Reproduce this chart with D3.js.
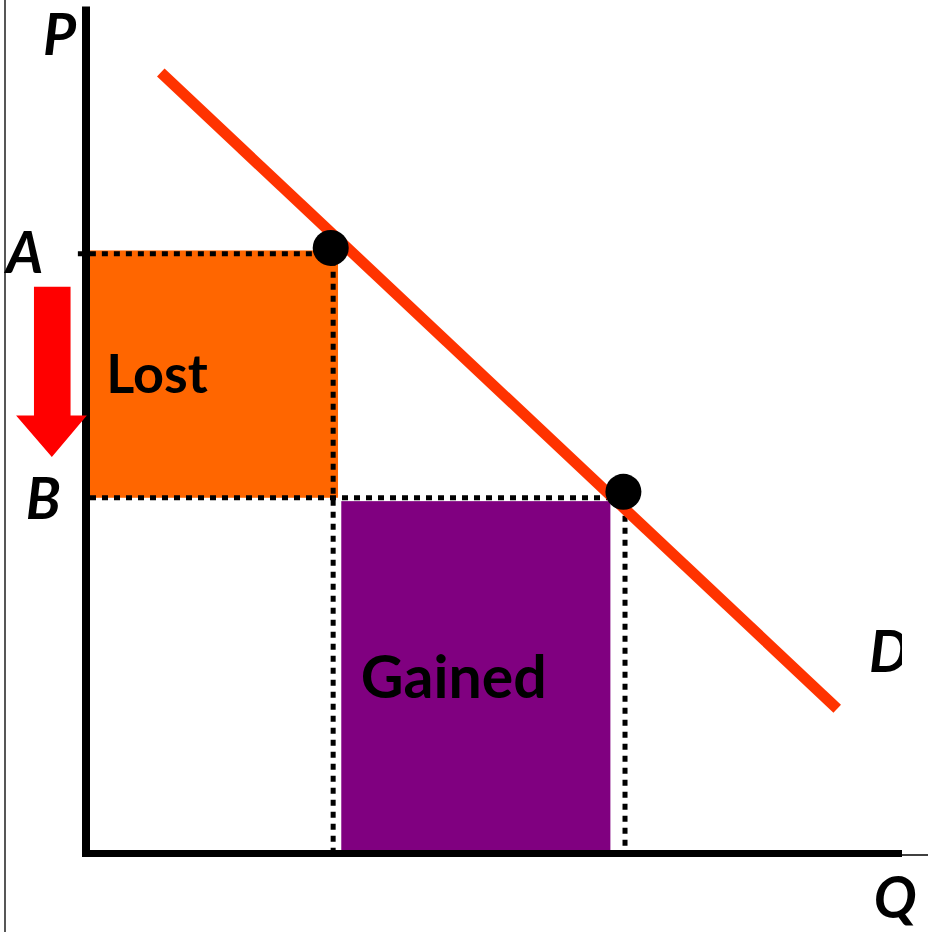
<!DOCTYPE html>
<html>
<head>
<meta charset="utf-8">
<script src="https://cdn.jsdelivr.net/npm/d3@7"></script>
<style>
  html, body { margin: 0; padding: 0; background: #fff; }
  svg { display: block; }
</style>
</head>
<body>
<svg id="chart" width="928" height="932"></svg>
<script>
// ---- data (chart units: quantity 0..100, price 0..100) ----
const demandLine = [ {q: 9.2, p: 92.2}, {q: 92.4, p: 17.1} ];
const points = [ {name: "A", q: 30.1, p: 71.5}, {name: "B", q: 66.1, p: 42.7} ];
const priceLevels = { A: 70.8, B: 42.0 };
const quantityLevels = { A: 30.4, B: 66.3 };
const lostArea = { q0: 0, q1: 31.0, p0: 42.0, p1: 71.2 };
const gainedArea = { q0: 31.4, q1: 64.5, p0: 0.4, p1: 41.6 };
const arrow = { shaftL: -6.4, shaftR: -1.9, headL: -8.6, headR: 0.1, tipQ: -4.2, top: 66.9, headBase: 51.7, tip: 46.8 };
const axisLabels = [
  {text: "P", q: -5.3, p: 94.3},
  {text: "A", q: -9.8, p: 68.5},
  {text: "B", q: -7.4, p: 39.5},
  {text: "D", q: 96.3, p: 21.4},
  {text: "Q", q: 96.9, p: -7.6}
];
const areaLabels = [
  {text: "Lost", q: 2.5, p: 54.4, size: 54},
  {text: "Gained", q: 33.8, p: 18.4, size: 59}
];

// ---- scales ----
const x = d3.scaleLinear().domain([0, 100]).range([86, 899]);
const y = d3.scaleLinear().domain([0, 100]).range([853.5, 6.5]);

const svg = d3.select("#chart");

// left border line
svg.append("line").attr("x1", 5).attr("x2", 5).attr("y1", 0).attr("y2", 932)
  .attr("stroke", "#444").attr("stroke-width", 1.8);

// shaded areas
svg.append("rect")
  .attr("x", x(lostArea.q0) + 4).attr("y", y(lostArea.p1))
  .attr("width", x(lostArea.q1) - x(lostArea.q0) - 4)
  .attr("height", y(lostArea.p0) - y(lostArea.p1))
  .attr("fill", "#FF6600");
svg.append("rect")
  .attr("x", x(gainedArea.q0)).attr("y", y(gainedArea.p1))
  .attr("width", x(gainedArea.q1) - x(gainedArea.q0))
  .attr("height", y(gainedArea.p0) - y(gainedArea.p1))
  .attr("fill", "#800080");

// dotted guide lines
const dotted = (x1, y1, x2, y2) => svg.append("line")
  .attr("x1", x1).attr("y1", y1).attr("x2", x2).attr("y2", y2)
  .attr("stroke", "#000").attr("stroke-width", 5).attr("stroke-dasharray", "6,6");
dotted(x(-1), y(priceLevels.A), x(points[0].q), y(priceLevels.A));
dotted(x(0) + 4, y(priceLevels.B), x(points[1].q), y(priceLevels.B));
dotted(x(quantityLevels.A), y(priceLevels.A) + 6, x(quantityLevels.A), y(0));
dotted(x(quantityLevels.B), y(priceLevels.B) + 6, x(quantityLevels.B), y(0));

// demand curve
svg.append("line")
  .attr("x1", x(demandLine[0].q)).attr("y1", y(demandLine[0].p))
  .attr("x2", x(demandLine[1].q)).attr("y2", y(demandLine[1].p))
  .attr("stroke", "#FF3300").attr("stroke-width", 11);

// points
svg.selectAll("circle.pt").data(points).join("circle")
  .attr("class", "pt")
  .attr("cx", d => x(d.q)).attr("cy", d => y(d.p)).attr("r", 18)
  .attr("fill", "#000");

// axes
svg.append("line").attr("x1", x(0)).attr("x2", x(0)).attr("y1", y(100)).attr("y2", y(0) + 3.5)
  .attr("stroke", "#000").attr("stroke-width", 8);
svg.append("line").attr("x1", x(0) - 4).attr("x2", 902).attr("y1", y(0)).attr("y2", y(0))
  .attr("stroke", "#000").attr("stroke-width", 7);
svg.append("line").attr("x1", 902).attr("x2", 928).attr("y1", y(0) + 1.5).attr("y2", y(0) + 1.5)
  .attr("stroke", "#000").attr("stroke-width", 1.5);

// price drop arrow
const arrowPts = [
  [arrow.shaftL, arrow.top], [arrow.shaftR, arrow.top], [arrow.shaftR, arrow.headBase],
  [arrow.headR, arrow.headBase], [arrow.tipQ, arrow.tip], [arrow.headL, arrow.headBase],
  [arrow.shaftL, arrow.headBase]
];
svg.append("polygon")
  .attr("points", arrowPts.map(d => [x(d[0]), y(d[1])].join(",")).join(" "))
  .attr("fill", "#FF0000");

// axis / point labels
svg.selectAll("text.ax").data(axisLabels).join("text")
  .attr("class", "ax")
  .attr("x", d => x(d.q)).attr("y", d => y(d.p))
  .attr("font-family", "Lato, 'Open Sans', sans-serif")
  .attr("font-weight", "bold").attr("font-style", "italic")
  .attr("font-size", 57).attr("fill", "#000")
  .text(d => d.text);

// white mask clipping D on the right like the reference
svg.append("rect").attr("x", 902).attr("y", 600).attr("width", 26).attr("height", 90).attr("fill", "#fff");

svg.selectAll("text.area").data(areaLabels).join("text")
  .attr("class", "area")
  .attr("x", d => x(d.q)).attr("y", d => y(d.p))
  .attr("font-family", "Lato, 'Open Sans', sans-serif")
  .attr("font-weight", "bold")
  .attr("font-size", d => d.size).attr("fill", "#000")
  .text(d => d.text);
</script>
</body>
</html>
